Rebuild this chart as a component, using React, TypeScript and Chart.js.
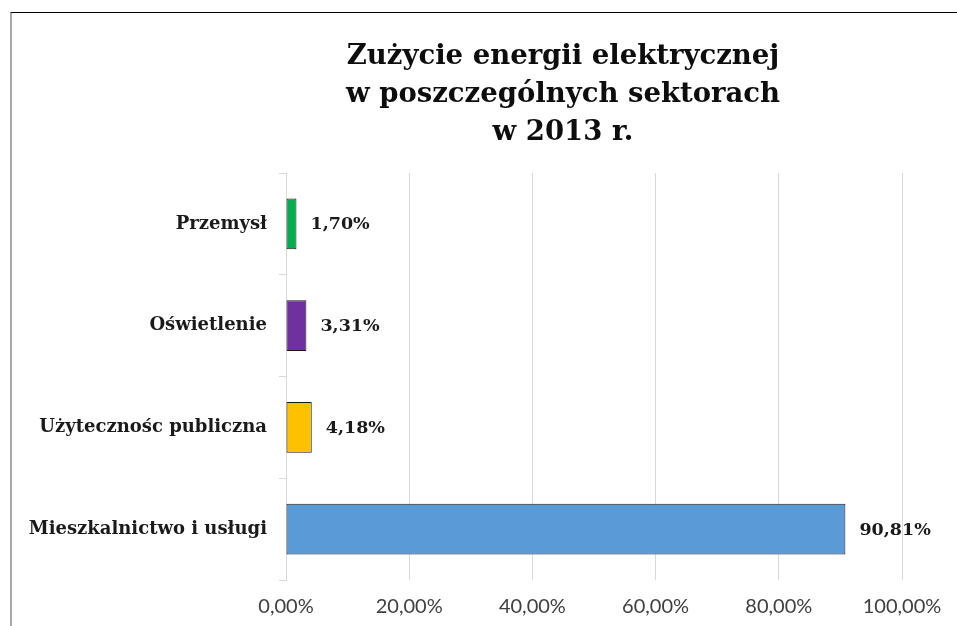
import React, { useEffect, useRef } from "react";
import { Chart, registerables } from "chart.js";

Chart.register(...registerables);

const categories = ["Przemysł", "Oświetlenie", "Użytecznośc publiczna", "Mieszkalnictwo i usługi"];
const values = [1.7, 3.31, 4.18, 90.81];
const barColors = ["#00B050", "#7030A0", "#FFC000", "#5B9BD5"];
const titleLines = ["Zużycie energii elektrycznej", "w poszczególnych sektorach", "w 2013 r."];
const axisMin = 0;
const axisMax = 100;
const axisStep = 20;

const fmt = (v: number) => v.toFixed(2).replace(".", ",") + "%";

const SERIF = "'DejaVu Serif', serif";

const titlePlugin = {
  id: "customTitle",
  afterDraw(chart: any) {
    const ctx = chart.ctx;
    ctx.save();
    ctx.fillStyle = "#0d0d0d";
    ctx.font = `bold 27.5px ${SERIF}`;
    ctx.textAlign = "center";
    ctx.textBaseline = "middle";
    titleLines.forEach((line, i) => {
      ctx.fillText(line, 563, 57 + i * 38);
    });
    ctx.restore();
  },
};

const dataLabelPlugin = {
  id: "barValueLabels",
  afterDatasetsDraw(chart: any) {
    const ctx = chart.ctx;
    const meta = chart.getDatasetMeta(0);
    const data = chart.data.datasets[0].data as number[];
    ctx.save();
    ctx.fillStyle = "#1a1a1a";
    ctx.font = `bold 17.5px ${SERIF}`;
    ctx.textAlign = "left";
    ctx.textBaseline = "middle";
    meta.data.forEach((el: any, i: number) => {
      ctx.fillText(fmt(data[i]), el.x + 14, el.y + 1);
    });
    ctx.restore();
  },
};

export default function App() {
  const ref = useRef<HTMLCanvasElement | null>(null);
  useEffect(() => {
    if (!ref.current) return;
    const chart = new Chart(ref.current, {
      type: "bar",
      data: {
        labels: categories,
        datasets: [
          {
            data: values,
            backgroundColor: barColors,
            borderColor: "#1a1a1a",
            borderWidth: 1,
            borderSkipped: false,
            barPercentage: 0.5,
            categoryPercentage: 1,
          },
        ],
      },
      options: {
        indexAxis: "y",
        animation: false,
        responsive: false,
        maintainAspectRatio: false,
        layout: { padding: { top: 173, left: 0, right: 55, bottom: 0 } },
        plugins: {
          legend: { display: false },
          title: { display: false },
          tooltip: { enabled: false },
        },
        scales: {
          x: {
            min: axisMin,
            max: axisMax,
            ticks: {
              stepSize: axisStep,
              padding: 15,
              color: "#404040",
              font: { family: "Lato", size: 20 },
              callback: (v: any) => fmt(Number(v)),
            },
            grid: { color: "#d9d9d9", drawTicks: false, lineWidth: 1 },
            border: { display: false },
            afterFit: (s: any) => {
              s.height = 46;
            },
          },
          y: {
            ticks: {
              padding: 12,
              color: "#1a1a1a",
              font: { family: "DejaVu Serif", size: 18, weight: "bold" },
            },
            grid: {
              color: "#d9d9d9",
              drawOnChartArea: false,
              drawTicks: true,
              tickLength: 7,
              offset: true,
            },
            border: { display: true, color: "#d9d9d9" },
            afterFit: (s: any) => {
              s.width = 286;
            },
          },
        },
      },
      plugins: [titlePlugin, dataLabelPlugin],
    });
    return () => chart.destroy();
  }, []);

  return (
    <div style={{ position: "absolute", left: 0, top: 0, width: 957, height: 626, background: "#fff", overflow: "hidden" }}>
      <div
        style={{
          position: "absolute",
          left: 10,
          top: 12,
          right: -5,
          bottom: -5,
          borderTop: "1px solid #000",
          borderLeft: "2px solid #a6a6a6",
        }}
      />
      <canvas ref={ref} width={957} height={626} style={{ position: "absolute", left: 0, top: 0 }} />
    </div>
  );
}
